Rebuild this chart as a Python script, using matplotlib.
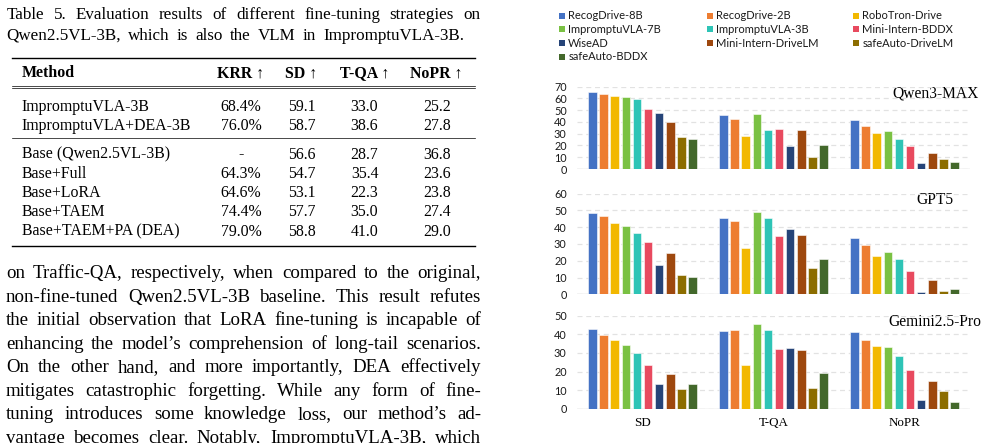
import matplotlib
matplotlib.use("Agg")
import matplotlib.pyplot as plt
import numpy as np
from matplotlib.patches import Rectangle

W, H = 988, 443
SERIF = ['Liberation Serif', 'DejaVu Serif']
SANS = ['Lato', 'DejaVu Sans']

# ---------------- data ----------------
caption = ["Table 5.  Evaluation results of different fine-tuning strategies on",
           "Qwen2.5VL-3B, which is also the VLM in ImpromptuVLA-3B."]
headers = ["Method", "KRR \u2191", "SD \u2191", "T-QA \u2191", "NoPR \u2191"]
methods = ["ImpromptuVLA-3B", "ImpromptuVLA+DEA-3B",
           "Base (Qwen2.5VL-3B)", "Base+Full", "Base+LoRA", "Base+TAEM", "Base+TAEM+PA (DEA)"]
krr = ["68.4%", "76.0%", "-", "64.3%", "64.6%", "74.4%", "79.0%"]
sd_col = ["59.1", "58.7", "56.6", "54.7", "53.1", "57.7", "58.8"]
tqa_col = ["33.0", "38.6", "28.7", "35.4", "22.3", "35.0", "41.0"]
nopr_col = ["25.2", "27.8", "36.8", "23.6", "23.8", "27.4", "29.0"]

paragraph = [
    "on Traffic-QA, respectively, when compared to the original,",
    "non-fine-tuned Qwen2.5VL-3B baseline. This result refutes",
    "the initial observation that LoRA fine-tuning is incapable of",
    "enhancing the model\u2019s comprehension of long-tail scenarios.",
    "On the other hand, and more importantly, DEA effectively",
    "mitigates catastrophic forgetting.  While any form of fine-",
    "tuning introduces some knowledge loss, our method\u2019s ad-",
    "vantage becomes clear. Notably, ImpromptuVLA-3B, which",
]

categories = ["SD", "T-QA", "NoPR"]
models = ["RecogDrive-8B", "RecogDrive-2B", "RoboTron-Drive", "ImpromptuVLA-7B",
          "ImpromptuVLA-3B", "Mini-Intern-BDDX", "WiseAD", "Mini-Intern-DriveLM",
          "safeAuto-DriveLM", "safeAuto-BDDX"]
colors = ["#4472C4", "#ED7D31", "#F2B800", "#7AC143", "#2EC4B6",
          "#E84A5F", "#264478", "#9E480E", "#8C6D00", "#43682B"]

# rows = models, columns = SD, T-QA, NoPR
qwen = [[65.2, 45.6, 41.4], [63.7, 42.2, 36.3], [62.3, 28.0, 30.6], [60.9, 46.5, 32.0],
        [59.5, 32.9, 25.2], [51.0, 33.7, 19.8], [47.9, 19.8, 5.1], [40.0, 33.1, 13.3],
        [27.2, 10.2, 8.2], [25.2, 20.1, 6.0]]
gpt5 = [[48.7, 45.5, 33.6], [46.5, 43.7, 29.2], [42.5, 27.8, 22.7], [40.6, 49.1, 25.2],
        [36.6, 45.3, 21.1], [31.0, 34.6, 13.9], [17.7, 39.0, 1.2], [24.5, 35.4, 8.7],
        [11.3, 15.9, 2.0], [10.3, 21.3, 3.0]]
gemini = [[42.7, 41.8, 41.0], [39.6, 42.1, 37.1], [36.7, 23.5, 33.5], [34.0, 45.3, 33.0],
          [29.9, 42.1, 28.3], [23.5, 32.3, 20.8], [13.1, 32.6, 4.5], [18.6, 31.4, 15.1],
          [10.6, 10.9, 9.3], [13.1, 19.2, 3.4]]

panels = [("Qwen3-MAX", qwen, 70), ("GPT5", gpt5, 60), ("Gemini2.5-Pro", gemini, 50)]

# ---------------- figure ----------------
fig = plt.figure(figsize=(W / 100, H / 100), dpi=100)
bg = fig.add_axes([0, 0, 1, 1])
bg.set_xlim(0, W)
bg.set_ylim(H, 0)
bg.axis('off')
renderer = fig.canvas.get_renderer()


def text_width(s, size, **kw):
    t = bg.text(0, 0, s, fontsize=size, family=SERIF, **kw)
    w = t.get_window_extent(renderer).width
    t.remove()
    return w


def fit_size(s, target, **kw):
    return 10 * target / text_width(s, 10, **kw)


def justify(line, x0, x1, y, size, **kw):
    words = line.split()
    widths = [text_width(w, size, **kw) for w in words]
    gap = (x1 - x0 - sum(widths)) / (len(words) - 1)
    x = x0
    for w, wd in zip(words, widths):
        bg.text(x, y, w, fontsize=size, family=SERIF, ha='left', va='baseline', **kw)
        x += wd + gap


# caption
csize = fit_size(caption[1], 458) * 0.95
justify(caption[0], 7, 480, 18.8, csize)
justify(caption[1], 6, 464, 39.6, csize)

# table
tsize = fit_size(methods[1], 173) * 0.98
col_x = [21.7, 241, 301.5, 364.5, 436.7]
bg.plot([12, 475], [58.3, 58.3], color='black', lw=1.0)
bg.plot([12, 475], [86.0, 86.0], color='black', lw=0.5)
bg.plot([12, 475], [88.4, 88.4], color='black', lw=0.5)
bg.plot([12, 475], [137.7, 137.7], color='black', lw=0.5)
bg.plot([12, 475], [246.2, 246.2], color='black', lw=1.0)

for i, h in enumerate(headers):
    bg.text(col_x[i], 77.4, h, fontsize=tsize, family=SERIF, fontweight='bold',
            ha='left' if i == 0 else 'center', va='baseline')

row_y = [110.6, 129.8, 158.6, 177.7, 197.0, 216.3, 235.6]
for r, y in enumerate(row_y):
    vals = [methods[r], krr[r], sd_col[r], tqa_col[r], nopr_col[r]]
    for i, v in enumerate(vals):
        bg.text(col_x[i], y, v, fontsize=tsize, family=SERIF,
                ha='left' if i == 0 else 'center', va='baseline')

# paragraph
psize = np.mean([fit_size(l, 475) for l in paragraph[:7]]) * 0.94
for k, line in enumerate(paragraph):
    justify(line, 6, 481, 278.2 + 23.5 * k, psize)

# legend
leg_x = [559.3, 706.7, 853.3]
for i, (m, c) in enumerate(zip(models, colors)):
    row, col = divmod(i, 3)
    yc = 15.8 + 13.67 * row
    bg.add_patch(Rectangle((leg_x[col], yc - 3), 6, 6, color=c, lw=0))
    bg.text(leg_x[col] + 9, yc, m, fontsize=8.0, family=SANS, ha='left', va='center',
            color='#1a1a1a')

# chart panels
ax_x0, ax_x1 = 577, 970
ybounds = [(86.7, 169.0), (193.7, 294.3), (315.7, 408.7)]
n = len(models)
step = 0.0852
width = 0.065
x = np.arange(len(categories))
for p, ((name, vals, top), (yt, yb)) in enumerate(zip(panels, ybounds)):
    ax = fig.add_axes([ax_x0 / W, 1 - yb / H, (ax_x1 - ax_x0) / W, (yb - yt) / H])
    ax.set_facecolor('none')
    vals = np.array(vals)
    for j in range(n):
        ax.bar(x + (j - (n - 1) / 2) * step, vals[j], width=width, color=colors[j],
               edgecolor=(1, 1, 1, 0.55), linewidth=0.7, zorder=3)
    ax.set_xlim(-0.5, 2.5)
    ax.set_ylim(0, top)
    ax.set_yticks(np.arange(0, top + 1, 10))
    ax.yaxis.grid(True, color='#e2e2e2', lw=0.9, ls=(0, (4, 3)))
    ax.set_axisbelow(True)
    ax.axhline(0, color='#d4d4d4', lw=1.0, zorder=2)
    for s in ax.spines.values():
        s.set_visible(False)
    ax.tick_params(axis='y', length=0, pad=7.4, labelsize=7.8, labelcolor='#1a1a1a')
    for lab in ax.get_yticklabels():
        lab.set_family(SANS)
    if p == 2:
        ax.set_xticks(x)
        ax.set_xticklabels(categories, family=SERIF, fontsize=9.4)
        ax.tick_params(axis='x', length=0, pad=6.3)
    else:
        ax.set_xticks([])

# panel names
bg.text(978.3, 93.3, "Qwen3-MAX", fontsize=11.2, family=SERIF, ha='right', va='center')
bg.text(953.3, 200.0, "GPT5", fontsize=11.2, family=SERIF, ha='right', va='center')
bg.text(981.7, 321.7, "Gemini2.5-Pro", fontsize=11.2, family=SERIF, ha='right', va='center')

fig.savefig("out.png", dpi=100)
plt.close(fig)
